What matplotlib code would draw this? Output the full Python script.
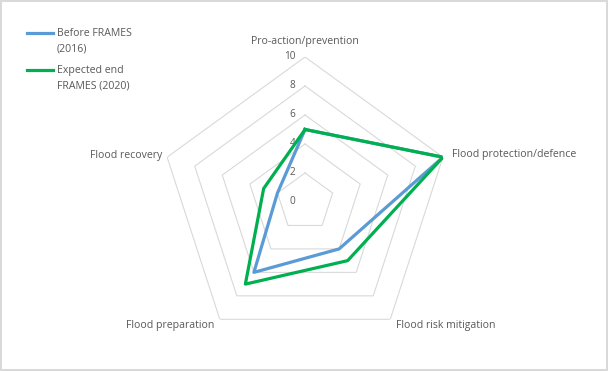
import numpy as np
import matplotlib
matplotlib.use("Agg")
import matplotlib.pyplot as plt
from matplotlib.lines import Line2D

categories = ["Pro-action/prevention", "Flood protection/defence", "Flood risk mitigation",
              "Flood preparation", "Flood recovery"]
before_2016 = [5, 10, 4, 6, 2]
expected_2020 = [5, 10, 5, 7, 3]
ring_values = [2, 4, 6, 8, 10]
tick_labels = ["0", "2", "4", "6", "8", "10"]
series_names = ["Before FRAMES\n(2016)", "Expected end\nFRAMES (2020)"]
series_colors = ["#5B9BD5", "#00B050"]

plt.rcParams['font.family'] = ['Open Sans', 'DejaVu Sans']
TXT = "#595959"
GRID = "#D9D9D9"
FS = 7.6
W, H = 608, 371

fig = plt.figure(figsize=(6.08, 3.71), dpi=100)
fig.patch.set_facecolor("white")
fig.patch.set_edgecolor(GRID)
fig.patch.set_linewidth(1.5)

ax = fig.add_axes([0.2632, 0.0647, 0.477, 0.7817], projection="polar")
ax.set_theta_offset(np.pi / 2)
ax.set_theta_direction(-1)
ax.set_ylim(0, 10)
ax.grid(False)
ax.spines['polar'].set_visible(False)
ax.set_xticks([])
ax.set_yticks([])
ax.patch.set_alpha(0)

n = len(categories)
theta = np.linspace(0, 2 * np.pi, n, endpoint=False)
theta_c = np.append(theta, theta[0])

# rings
for rv in ring_values:
    ax.plot(theta_c, [rv] * (n + 1), color=GRID, lw=0.8, zorder=1)

# tick labels
for i, lab in enumerate(tick_labels):
    ax.annotate(lab, xy=(0, 2 * i), xytext=(-7, 0), textcoords="offset points",
                ha="right", va="center", fontsize=FS * 0.95, color=TXT)

# data
for vals, col in zip([before_2016, expected_2020], series_colors):
    ax.plot(theta_c, vals + vals[:1], color=col, lw=2.3, zorder=3)

# category labels (offsets in points)
offsets = [((0, 7), "center", "bottom"),
           ((6.5, 2), "left", "center"),
           ((4.3, -4.3), "left", "center"),
           ((-3.6, -4.3), "right", "center"),
           ((-3.6, 1.4), "right", "center")]
for t, lab, (off, ha, va) in zip(theta, categories, offsets):
    ax.annotate(lab, xy=(t, 10), xytext=off, textcoords="offset points",
                ha=ha, va=va, fontsize=FS, color=TXT, annotation_clip=False)

# manual legend (Excel style: handle aligned with first text line)
leg_y = [33, 70]
for y, name, col in zip(leg_y, series_names, series_colors):
    fy = 1 - y / H
    fig.add_artist(Line2D([27 / W, 53 / W], [fy, fy], color=col, lw=2.3,
                          transform=fig.transFigure))
    first, second = name.split("\n")
    fig.text(57 / W, fy, first, ha="left", va="center", fontsize=FS, color=TXT)
    fig.text(57 / W, 1 - (y + 16) / H, second, ha="left", va="center", fontsize=FS, color=TXT)

fig.savefig("out.png", dpi=100)
